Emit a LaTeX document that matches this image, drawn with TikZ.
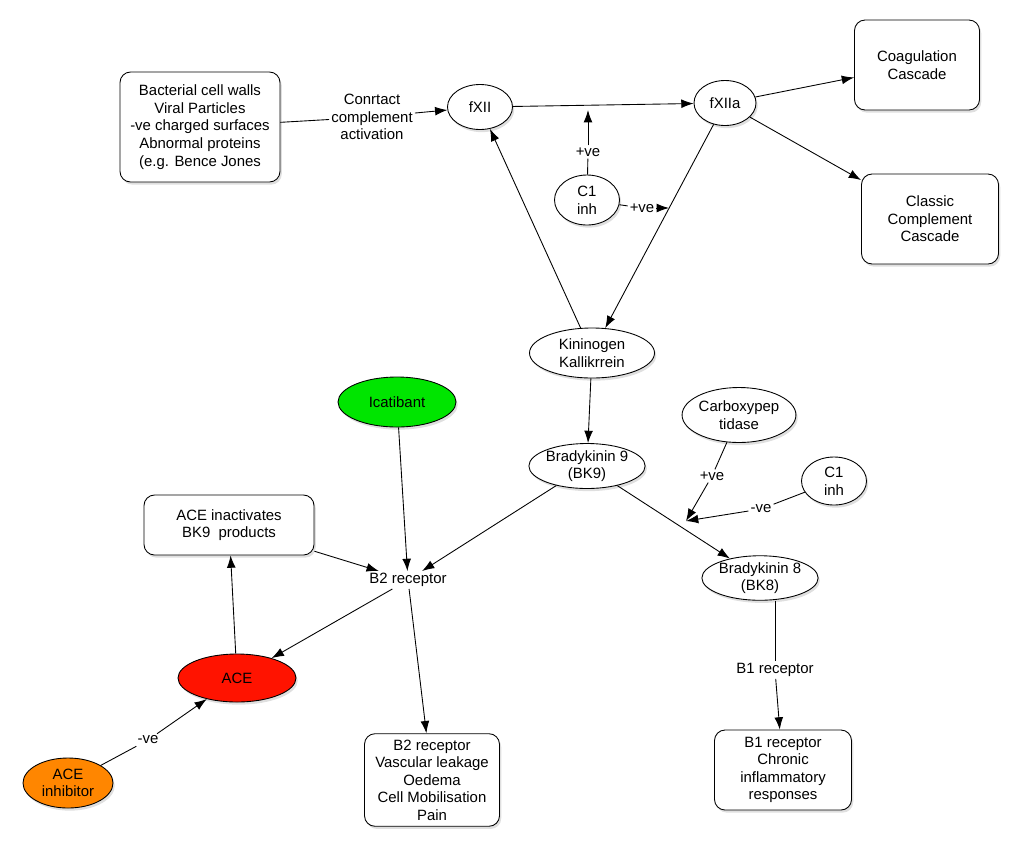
\documentclass[tikz,border=0pt]{standalone}
\usepackage{fontspec}
\setmainfont{Liberation Sans}
\usetikzlibrary{shapes.geometric,arrows.meta,shadows}
\tikzset{
  box/.style={draw, rounded corners=6pt, align=center, fill=white,
    drop shadow={shadow xshift=1pt, shadow yshift=-1.5pt, opacity=0.25}},
  oval/.style={draw, ellipse, align=center, inner sep=0pt, fill=white,
    drop shadow={shadow xshift=1pt, shadow yshift=-1.5pt, opacity=0.25}},
  plain/.style={align=center, inner sep=1pt, fill=white},
  arr/.style={-{Latex[length=7pt,width=5pt]}},
}
\begin{document}
\begin{tikzpicture}[x=0.02cm, y=-0.02cm, font=\fontsize{8.5}{10}\selectfont, line width=0.5pt]
\useasboundingbox (0,0) rectangle (1024,853);
% top part
\node[box, minimum width=160*0.02cm, minimum height=110*0.02cm] (src) at (200,127)
  {Bacterial cell walls\\Viral Particles\\-ve charged surfaces\\Abnormal proteins\\(e.g. Bence Jones};
\node[oval, minimum width=65*0.02cm, minimum height=45*0.02cm] (f12) at (480,107) {fXII};
\node[oval, minimum width=62*0.02cm, minimum height=45*0.02cm] (f12a) at (725,103) {fXIIa};
\node[box, minimum width=125*0.02cm, minimum height=90*0.02cm] (coag) at (917,65) {Coagulation\\Cascade};
\node[box, minimum width=137*0.02cm, minimum height=90*0.02cm] (compl) at (930,219) {Classic\\Complement\\Cascade};
\node[oval, minimum width=65*0.02cm, minimum height=50*0.02cm] (c1a) at (587,200) {C1\\inh};
\node[plain] (act) at (372,117) {Conrtact\\complement\\activation};
\draw (src) -- (act);
\draw[arr] (act) -- (f12);
\draw[arr] (f12) -- (f12a);
\draw[arr] (f12a) -- (coag);
\draw[arr] (f12a) -- (compl);
% middle
\node[oval, minimum width=125*0.02cm, minimum height=50*0.02cm] (kin) at (592,353) {Kininogen\\Kallikrrein};
\draw[arr] (f12a) -- (kin);
\draw[arr] (kin) -- (f12);
\coordinate (p1) at (588,110);
\node[plain] (pve1) at (588,152) {+ve};
\draw (c1a) -- (pve1);
\draw[arr] (pve1) -- (p1);
\coordinate (p2) at (669,208);
\node[plain] (pve2) at (642,208) {+ve};
\draw (c1a) -- (pve2);
\draw[arr] (pve2) -- (p2);
\node[oval, fill=green!90!black, minimum width=118*0.02cm, minimum height=50*0.02cm] (icat) at (397,402) {Icatibant};
\node[oval, minimum width=100*0.02cm, minimum height=55*0.02cm] (carb) at (739,415) {Carboxypep\\tidase};
\node[oval, minimum width=115*0.02cm, minimum height=45*0.02cm] (bk9) at (587,466) {Bradykinin 9\\(BK9)};
\node[oval, minimum width=65*0.02cm, minimum height=48*0.02cm] (c1b) at (834,481) {C1\\inh};
\node[oval, minimum width=92*0.02cm, minimum height=40*0.02cm] (bk8) at (760,578) {Bradykinin 8\\(BK8)};
\draw[arr] (kin) -- (bk9);
\draw[arr] (bk9) -- (bk8);
\coordinate (p3) at (686,521);
\node[plain] (pve3) at (712,476) {+ve};
\node[plain] (nve1) at (761,509) {-ve};
\draw (carb) -- (pve3);
\draw[arr] (pve3) -- (p3);
\draw (c1b) -- (nve1);
\draw[arr] (nve1) -- (p3);
% lower left
\node[box, minimum width=170*0.02cm, minimum height=60*0.02cm] (inact) at (229,525) {ACE inactivates\\BK9~ products};
\node[plain] (b2) at (408,580) {B2 receptor};
\node[oval, fill=red!85!orange, minimum width=118*0.02cm, minimum height=48*0.02cm] (ace) at (237,678) {ACE};
\node[oval, fill=orange!95!yellow, minimum width=90*0.02cm, minimum height=50*0.02cm] (acei) at (68,783) {ACE\\inhibitor};
\node[box, minimum width=135*0.02cm, minimum height=90*0.02cm] (b2res) at (432,780) {B2 receptor\\Vascular leakage\\Oedema\\Cell Mobilisation\\Pain};
\draw[arr] (icat) -- (b2);
\draw[arr] (bk9) -- (b2);
\draw[arr] (b2) -- (ace);
\draw[arr] (ace) -- (inact);
\draw[arr] (inact) -- (b2);
\draw[arr] (b2) -- (b2res);
\node[plain] (nve2) at (148,740) {-ve};
\draw (acei) -- (nve2);
\draw[arr] (nve2) -- (ace);
% lower right
\node[plain] (b1) at (775,670) {B1 receptor};
\node[box, minimum width=137*0.02cm, minimum height=80*0.02cm] (b1res) at (783,770) {B1 receptor\\Chronic\\inflammatory\\responses};
\draw (bk8.south -| b1) -- (b1);
\draw[arr] (b1) -- (b1res);
\end{tikzpicture}
\end{document}
